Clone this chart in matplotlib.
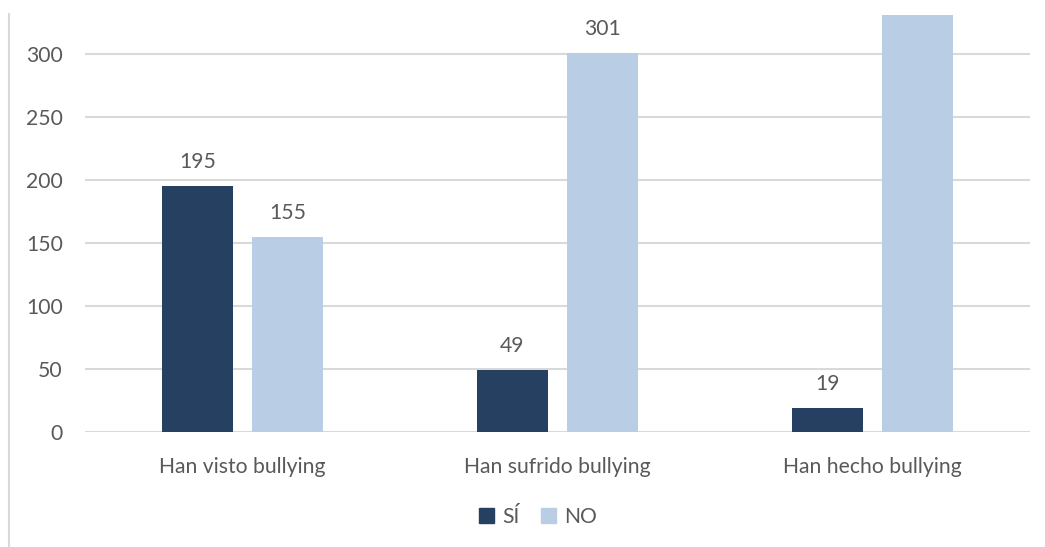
import matplotlib
matplotlib.use("Agg")
import matplotlib.pyplot as plt
import numpy as np
from matplotlib.lines import Line2D
from matplotlib.patches import Patch

categories = ["Han visto bullying", "Han sufrido bullying", "Han hecho bullying"]
si_values = [195, 49, 19]
no_values = [155, 301, 331]
series_names = ["SÍ", "NO"]
yticks = [0, 50, 100, 150, 200, 250, 300]

dark = "#264061"
light = "#B9CDE5"
text_c = "#595959"
grid_c = "#D9D9D9"

plt.rcParams['font.family'] = ['Lato', 'DejaVu Sans']
fs = 15.2

W, H = 1045, 547
fig = plt.figure(figsize=(W/100, H/100), dpi=100)
ax = fig.add_axes([85/W, 115/H, 945/W, 418/H])

x = np.arange(len(categories))
bw = 0.225
off = 0.143
b1 = ax.bar(x - off, si_values, bw, color=dark, zorder=3)
b2 = ax.bar(x + off, no_values, bw, color=light, zorder=3)

ymax = 331.7
ax.set_xlim(-0.5, 2.5)
ax.set_ylim(0, ymax)
ax.set_yticks(yticks)
ax.set_xticks(x)
ax.set_xticklabels(categories)
ax.tick_params(axis='both', length=0, labelsize=fs, colors=text_c)
ax.tick_params(axis='y', pad=16)
ax.tick_params(axis='x', pad=18)
for s in ax.spines.values():
    s.set_visible(False)
ax.grid(axis='y', color=grid_c, linewidth=1.5, zorder=0)
ax.set_axisbelow(True)

# Labels only where they fit inside the plot area (the clipped bar's label is not shown)
for bars in (b1, b2):
    for b in bars:
        h = b.get_height()
        if h > ymax - 20:
            continue
        ax.annotate(f"{int(h)}", (b.get_x() + b.get_width()/2, h),
                    xytext=(0, 10), textcoords='offset points',
                    ha='center', va='bottom', fontsize=fs, color=text_c)

handles = [Patch(color=dark), Patch(color=light)]
fig.legend(handles, series_names, loc='center', bbox_to_anchor=(538/W, 1 - 517/H),
           ncol=2, frameon=False, fontsize=fs, labelcolor=text_c,
           handlelength=0.7, handleheight=0.7, handletextpad=0.4, columnspacing=1.0)

fig.add_artist(Line2D([8.5/W, 8.5/W], [0, 1 - 14/H], color=grid_c, linewidth=1.5))

fig.savefig("out.png", dpi=100)
